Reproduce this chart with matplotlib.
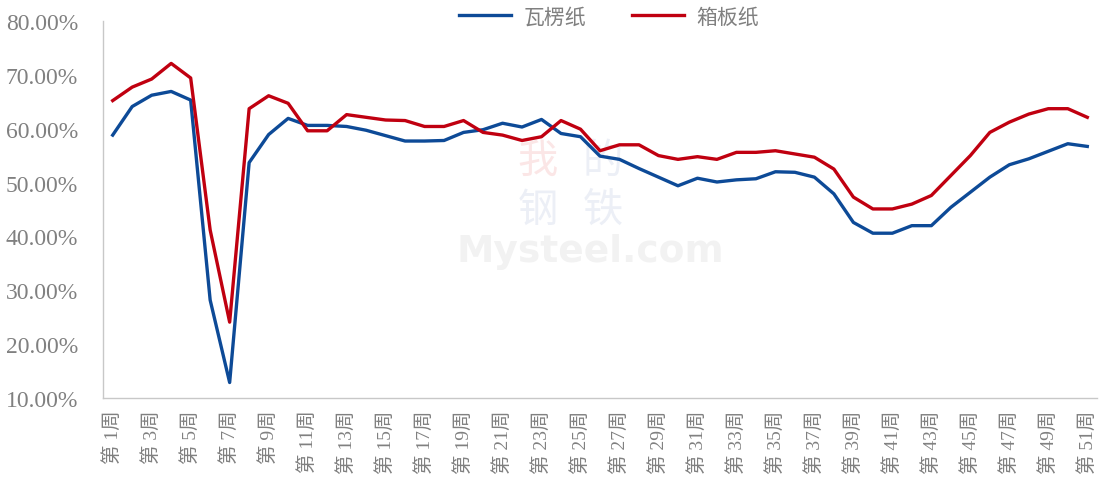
import matplotlib
matplotlib.use("Agg")
import matplotlib.pyplot as plt
from matplotlib.ticker import FixedLocator, FuncFormatter

weeks = [f"第 {i}周" for i in range(1, 52)]

corrugated = [58.8, 64.1, 66.2, 66.9, 65.3, 28.2, 12.9, 53.7, 58.9, 61.9,
              60.6, 60.6, 60.4, 59.7, 58.7, 57.7, 57.7, 57.8, 59.3, 59.8,
              61.0, 60.3, 61.7, 59.1, 58.5, 54.9, 54.3, 52.6, 51.0, 49.4,
              50.8, 50.1, 50.5, 50.7, 52.0, 51.9, 51.0, 47.9, 42.6, 40.6,
              40.6, 42.0, 42.0, 45.4, 48.2, 51.0, 53.3, 54.4, 55.8, 57.2,
              56.7]
containerboard = [65.2, 67.7, 69.2, 72.1, 69.4, 41.2, 24.1, 63.7, 66.1, 64.7,
                  59.6, 59.6, 62.6, 62.1, 61.6, 61.5, 60.4, 60.4, 61.5, 59.3,
                  58.8, 57.8, 58.5, 61.5, 59.9, 55.9, 57.0, 57.0, 55.0, 54.3,
                  54.8, 54.3, 55.6, 55.6, 55.9, 55.3, 54.7, 52.5, 47.3, 45.1,
                  45.1, 46.0, 47.6, 51.3, 55.0, 59.3, 61.2, 62.7, 63.7, 63.7,
                  62.1]
series_names = ["瓦楞纸", "箱板纸"]
y_ticks = [10, 20, 30, 40, 50, 60, 70, 80]

fonts = ["Liberation Serif", "Noto Sans CJK SC", "DejaVu Sans"]
plt.rcParams["font.family"] = fonts

fig = plt.figure(figsize=(11.07, 4.85), dpi=100)
ax = fig.add_axes([0.093, 0.177, 0.898, 0.778])

x = list(range(1, len(weeks) + 1))
ax.plot(x, corrugated, color="#0d4a97", lw=2.4, label=series_names[0], solid_joinstyle="round")
ax.plot(x, containerboard, color="#c00010", lw=2.4, label=series_names[1], solid_joinstyle="round")

ax.set_xlim(0.5, len(weeks) + 0.5)
ax.set_ylim(10, 80)
ax.yaxis.set_major_locator(FixedLocator(y_ticks))
ax.yaxis.set_major_formatter(FuncFormatter(lambda v, p: f"{v:.2f}%"))
ax.set_xticks(x[::2])
ax.set_xticklabels(weeks[::2], rotation=90, va="top", ha="center")

for s in ["top", "right"]:
    ax.spines[s].set_visible(False)
for s in ["left", "bottom"]:
    ax.spines[s].set_color("#c8c8c8")
    ax.spines[s].set_linewidth(1.0)
ax.tick_params(axis="both", length=0, colors="#808080")
ax.tick_params(axis="y", labelsize=17, pad=18)
ax.tick_params(axis="x", labelsize=14, pad=8)

# faint watermark
ax.text(0.49, 0.39, "Mysteel.com", transform=ax.transAxes, ha="center", va="center",
        fontsize=27, fontweight="bold", color="#f2f2f2", family=["DejaVu Sans"], zorder=0)
for (cx, cy, ch, col) in [(0.437, 0.63, "我", "#fbe6e6"), (0.503, 0.63, "的", "#eceff6"),
                          (0.437, 0.50, "钢", "#eceff6"), (0.503, 0.50, "铁", "#eceff6")]:
    ax.text(cx, cy, ch, transform=ax.transAxes, ha="center", va="center",
            fontsize=29, color=col, family=["Noto Sans CJK SC"], zorder=0)

leg = ax.legend(loc="upper center", bbox_to_anchor=(0.509, 1.085), ncol=2, frameon=False,
                fontsize=15, handlelength=2.5, columnspacing=2.2, handletextpad=0.6)
for t in leg.get_texts():
    t.set_color("#808080")

fig.savefig("out.png", dpi=100)
